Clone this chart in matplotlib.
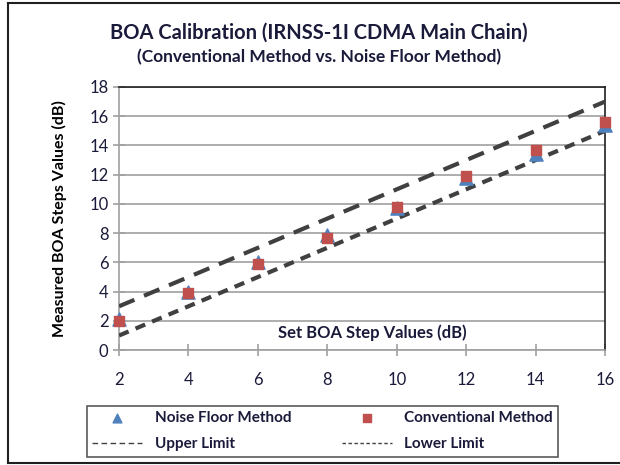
import matplotlib.pyplot as plt
import numpy as np

plt.rcParams['font.family'] = ['Lato', 'DejaVu Sans']

set_steps = [2, 4, 6, 8, 10, 12, 14, 16]
noise_floor = [2.1, 4.0, 6.0, 7.9, 9.7, 11.8, 13.4, 15.4]
conventional = [2.0, 3.9, 5.9, 7.7, 9.8, 11.9, 13.7, 15.6]
upper_limit = [3, 5, 7, 9, 11, 13, 15, 17]
lower_limit = [1, 3, 5, 7, 9, 11, 13, 15]

fig = plt.figure(figsize=(6.2, 4.65), dpi=100)
ax = fig.add_axes([0.192, 0.247, 0.784, 0.566])

ax.plot(set_steps, upper_limit, color='#404040', lw=3, ls=(0, (4, 2.5)),
        label='Upper Limit', zorder=3)
ax.plot(set_steps, lower_limit, color='#404040', lw=3, ls=(0, (2.5, 1.8)),
        label='Lower Limit', zorder=3)
ax.scatter(set_steps, noise_floor, marker='^', s=90, color='#4F81BD',
           label='Noise Floor Method', zorder=4, clip_on=False)
ax.scatter(set_steps, conventional, marker='s', s=55, color='#C0504D',
           label='Conventional Method', zorder=5, clip_on=False)

ax.set_xlim(2, 16)
ax.set_ylim(0, 18)
ax.set_xticks(range(2, 17, 2))
ax.set_yticks(range(0, 19, 2))
ax.grid(axis='y', color='#A0A0A0', lw=1.2)
ax.set_axisbelow(True)
for s in ['left', 'bottom']:
    ax.spines[s].set_color('#A0A0A0')
    ax.spines[s].set_linewidth(1.2)
for s in ['top', 'right']:
    ax.spines[s].set_color('#202020')
    ax.spines[s].set_linewidth(1.2)
ax.tick_params(direction='inout', length=8, color='#A0A0A0', width=1.2,
               labelsize=12, labelcolor='#1a1a3a')
ax.tick_params(axis='x', pad=12)

ax.text(9.3, 1.2, 'Set BOA Step Values (dB)', fontsize=12, fontweight='bold',
        ha='center', va='center', color='#1a1a3a')
ax.set_ylabel('Measured BOA Steps Values (dB)', fontsize=11.5, fontweight='bold',
              labelpad=16)

fig.text(0.515, 0.93, 'BOA Calibration (IRNSS-1I CDMA Main Chain)',
         fontsize=14.5, fontweight='bold', ha='center', va='center', color='#1a1a3a')
fig.text(0.515, 0.877, '(Conventional Method vs. Noise Floor Method)',
         fontsize=12.5, fontweight='bold', ha='center', va='center', color='#1a1a3a')

h, l = ax.get_legend_handles_labels()
order = [2, 0, 3, 1]
leg = fig.legend([h[i] for i in order], [l[i] for i in order], ncol=2,
                 loc='center', bbox_to_anchor=(0.52, 0.073), frameon=True,
                 fancybox=False, edgecolor='#303030',
                 prop={'weight': 'bold', 'size': 11}, handlelength=3.3,
                 columnspacing=3.3, borderpad=0.35, labelspacing=0.8)
leg.get_frame().set_linewidth(1.2)
for t in leg.get_texts():
    t.set_color('#1a1a3a')
for lh in leg.legend_handles:
    if isinstance(lh, plt.Line2D):
        lh.set_linewidth(1)
        lh.set_color('#404040')
    else:
        lh.set_sizes([40])

# outer border
fig.add_artist(plt.Line2D([0.013, 0.013], [0.005, 0.993], color='#202020', lw=1.5,
                          transform=fig.transFigure))
fig.add_artist(plt.Line2D([0.013, 1.0], [0.993, 0.993], color='#202020', lw=1.5,
                          transform=fig.transFigure))
fig.add_artist(plt.Line2D([0.013, 1.0], [0.005, 0.005], color='#202020', lw=1.5,
                          transform=fig.transFigure))

fig.savefig('out.png', dpi=100)
